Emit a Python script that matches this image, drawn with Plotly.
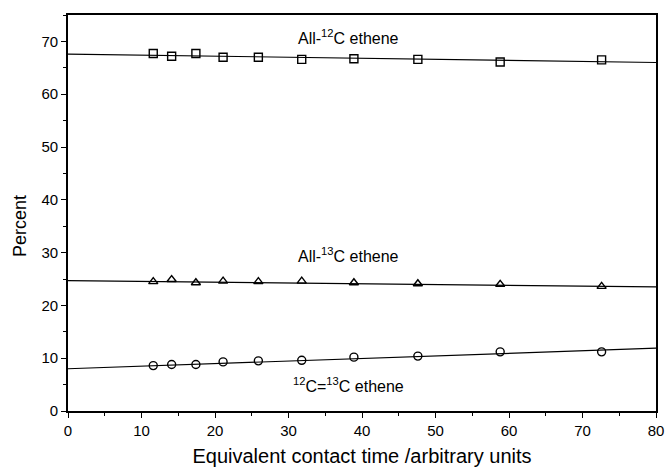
import plotly.graph_objects as go

# Data
contact_time = [11.6, 14.1, 17.4, 21.1, 25.9, 31.8, 38.9, 47.6, 58.8, 72.6]
all_12c = [67.7, 67.2, 67.7, 67.0, 67.0, 66.6, 66.7, 66.6, 66.1, 66.5]
all_13c = [24.5, 24.9, 24.3, 24.6, 24.5, 24.6, 24.3, 24.1, 24.0, 23.6]
mixed_c = [8.6, 8.8, 8.8, 9.3, 9.5, 9.6, 10.2, 10.4, 11.2, 11.2]

fit_x = [0, 80]
fit_12c = [67.6, 66.0]
fit_13c = [24.7, 23.5]
fit_mixed = [8.0, 11.9]

labels = ["All-<sup>12</sup>C ethene", "All-<sup>13</sup>C ethene", "<sup>12</sup>C=<sup>13</sup>C ethene"]
label_x = [38.2, 38.2, 38.2]
label_y = [70.8, 29.6, 4.9]

x_ticks = [0, 10, 20, 30, 40, 50, 60, 70, 80]
y_ticks = [0, 10, 20, 30, 40, 50, 60, 70]

FONT = "Liberation Sans, Arial, Helvetica, sans-serif"

fig = go.Figure()

for fy in (fit_12c, fit_13c, fit_mixed):
    fig.add_trace(go.Scatter(x=fit_x, y=fy, mode="lines",
                             line=dict(color="black", width=1.2),
                             showlegend=False, hoverinfo="skip"))

for ys, sym in ((all_12c, "square-open"), (all_13c, "triangle-up-open"), (mixed_c, "circle-open")):
    fig.add_trace(go.Scatter(x=contact_time, y=ys, mode="markers",
                             marker=dict(symbol=sym, size=8, color="black",
                                         line=dict(color="black", width=1.4)),
                             showlegend=False))

for t, lx, ly in zip(labels, label_x, label_y):
    fig.add_annotation(x=lx, y=ly, text=t, showarrow=False,
                       font=dict(family=FONT, size=16, color="black"),
                       xanchor="center", yanchor="middle")

# y-axis title placed as a rotated annotation
fig.add_annotation(xref="paper", yref="paper", x=0, y=0.467, xshift=-48,
                   text="Percent", textangle=-90, showarrow=False,
                   font=dict(family=FONT, size=18, color="black"),
                   xanchor="center", yanchor="middle")

axis_common = dict(showline=True, linecolor="black", linewidth=1.6, mirror=True,
                   ticks="outside", ticklen=5, tickwidth=1.3, tickcolor="black",
                   showgrid=False, zeroline=False,
                   tickfont=dict(family=FONT, size=15, color="black"),
                   minor=dict(ticks="outside", ticklen=3, tickwidth=1.1, tickcolor="black"))

fig.update_xaxes(range=[0, 80], tickvals=x_ticks, minor_dtick=5,
                 title=dict(text="Equivalent contact time /arbitrary units",
                            font=dict(family=FONT, size=20, color="black"), standoff=11),
                 **axis_common)
fig.update_yaxes(range=[0, 75], tickvals=y_ticks, minor_dtick=5, **axis_common)

fig.update_layout(width=666, height=469,
                  margin=dict(l=68, r=10, t=15, b=58, autoexpand=False),
                  paper_bgcolor="white", plot_bgcolor="white",
                  font=dict(family=FONT, color="black"))

fig.write_html("out.html", config={"displayModeBar": False})

# remove the default page margin so the figure sits at the window origin
with open("out.html", "r", encoding="utf-8") as f:
    html = f.read()
html = html.replace("<body>", '<body style="margin:0;padding:0;">', 1)
with open("out.html", "w", encoding="utf-8") as f:
    f.write(html)
